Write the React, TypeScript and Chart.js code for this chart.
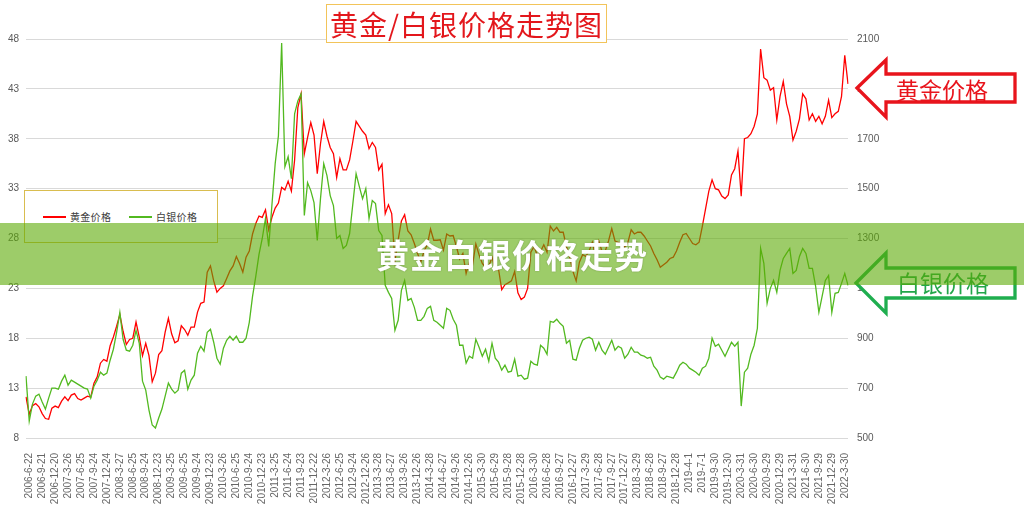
import React, { useEffect, useRef } from 'react';
import { Chart, registerables } from 'chart.js';

Chart.register(...registerables);

const tickLabels = [
  '2006-6-22', '2006-9-21', '2006-12-20', '2007-3-26', '2007-6-25', '2007-9-24', '2007-12-24', '2008-3-27',
  '2008-6-25', '2008-9-24', '2008-12-23', '2009-3-25', '2009-6-25', '2009-9-24', '2009-12-23', '2010-3-26',
  '2010-6-25', '2010-9-24', '2010-12-23', '2011-3-25', '2011-6-24', '2011-9-23', '2011-12-22', '2012-3-26',
  '2012-6-25', '2012-9-24', '2012-12-26', '2013-3-28', '2013-6-27', '2013-9-26', '2013-12-26', '2014-3-28',
  '2014-6-27', '2014-9-26', '2014-12-26', '2015-3-30', '2015-6-29', '2015-9-28', '2015-12-28', '2016-3-30',
  '2016-6-28', '2016-9-27', '2016-12-27', '2017-3-29', '2017-6-28', '2017-9-27', '2017-12-27', '2018-3-29',
  '2018-6-28', '2018-9-27', '2018-12-28', '2019-4-1', '2019-7-1', '2019-9-30', '2019-12-30', '2020-3-31',
  '2020-6-30', '2020-9-29', '2020-12-29', '2021-3-31', '2021-6-30', '2021-9-29', '2021-12-29', '2022-3-30',
];

const goldPrices = [
  665, 595, 630, 638, 625, 598, 578, 575, 620, 628,
  622, 648, 665, 650, 672, 678, 658, 652, 660, 668,
  664, 720, 745, 800, 815, 808, 870, 905, 948, 995,
  928, 875, 895, 900, 965, 905, 830, 880, 830, 725,
  760, 835, 850, 925, 980, 918, 882, 890, 950, 935,
  912, 945, 945, 1005, 1040, 1045, 1165, 1190, 1130, 1085,
  1100, 1110, 1140, 1170, 1190, 1228, 1200, 1165, 1225, 1250,
  1318, 1360, 1390, 1385, 1415, 1335, 1385, 1422, 1442, 1505,
  1495, 1530, 1490, 1615, 1825, 1880, 1640, 1705, 1765, 1715,
  1560, 1680, 1770, 1710, 1665, 1640, 1545, 1620, 1575, 1575,
  1615, 1690, 1770, 1750, 1730, 1715, 1660, 1685, 1665, 1575,
  1598, 1400, 1435, 1400, 1210, 1295, 1370, 1395, 1330, 1315,
  1280, 1240, 1205, 1250, 1275, 1338, 1293, 1293, 1295, 1253,
  1318, 1310, 1312, 1268, 1218, 1240, 1160, 1205, 1195, 1278,
  1235, 1200, 1185, 1188, 1225, 1172, 1178, 1095, 1115, 1122,
  1130, 1168, 1082, 1055, 1065, 1100, 1245, 1268, 1232, 1248,
  1275, 1245, 1350, 1330, 1345, 1325, 1325, 1268, 1225, 1168,
  1130, 1205, 1235, 1228, 1250, 1285, 1230, 1290, 1248, 1250,
  1290, 1340, 1290, 1285, 1278, 1265, 1285, 1335, 1318, 1325,
  1325, 1310, 1290, 1270, 1240, 1215, 1185, 1195, 1205, 1220,
  1225, 1250, 1285, 1315, 1320, 1300, 1280, 1275, 1285, 1350,
  1420, 1490, 1535, 1500, 1495, 1470, 1460, 1475, 1555, 1580,
  1650, 1470, 1700, 1705, 1720, 1750, 1800, 2060, 1945, 1935,
  1895, 1905, 1775, 1870, 1930, 1840, 1790, 1695, 1730, 1780,
  1880, 1860, 1775, 1800, 1770, 1790, 1760, 1790, 1855, 1785,
  1800, 1810, 1870, 2035, 1920,
];

const silverPrices = [
  14.2, 9.7, 11.4, 12.2, 12.4, 11.6, 10.9, 12.0, 13.0, 13.0,
  12.9, 13.7, 14.3, 13.3, 13.8, 13.6, 13.4, 13.2, 13.0, 12.9,
  12.0, 13.2, 13.8, 14.6, 14.3, 14.5, 15.8, 16.9, 18.6, 20.6,
  17.9, 16.8, 16.7, 17.3, 18.8, 17.5, 13.7, 12.8, 10.8, 9.3,
  9.0, 10.0, 10.9, 12.2, 13.5, 12.9, 12.5, 12.8, 14.5, 14.8,
  12.9, 13.8, 14.3, 16.5, 17.2, 16.7, 18.6, 18.9, 17.6, 16.0,
  15.4, 17.0, 17.8, 18.2, 17.8, 18.2, 17.6, 17.6, 18.0, 19.6,
  22.2, 24.2, 26.4, 28.0, 30.0, 27.2, 31.4, 35.5, 38.3, 47.6,
  35.2, 36.2, 34.0, 40.5, 41.8, 42.5, 30.3, 33.6, 32.8, 31.6,
  27.8, 32.0, 35.5, 34.3, 32.3, 31.3, 28.0, 28.3, 27.0, 27.3,
  28.5, 31.5, 34.5, 33.2, 32.0, 33.0, 30.0, 31.8, 31.5, 28.8,
  28.3, 23.3, 22.6, 22.0, 18.8, 19.8, 22.8, 23.8, 21.8, 22.0,
  21.1, 19.8, 19.8, 20.2, 21.0, 21.2, 19.8, 19.6, 19.3, 19.0,
  21.0, 20.8, 19.9, 19.3, 17.3, 17.3, 15.5, 16.2, 16.0, 17.9,
  17.1, 16.2, 16.9, 15.7, 17.5, 16.0, 15.6, 14.8, 15.3, 14.6,
  14.7, 15.9, 14.2, 14.3, 13.9, 14.0, 15.7, 15.4, 15.3, 17.3,
  17.0, 16.4, 19.7, 19.6, 19.9, 19.5, 19.2, 17.5, 17.8, 15.9,
  15.8, 17.0, 17.8, 18.0, 18.1, 17.9, 16.8, 17.6, 16.8, 16.4,
  17.1, 17.8, 16.8, 17.2, 17.0, 16.0, 16.4, 17.1, 16.6, 16.6,
  16.3, 16.2, 16.0, 16.1, 15.2, 14.8, 14.1, 13.9, 14.2, 14.1,
  14.0, 14.6, 15.3, 15.6, 15.4, 15.0, 14.8, 14.6, 14.3, 15.0,
  15.2, 16.0, 18.0, 17.2, 17.4, 16.8, 16.2, 16.9, 17.6, 17.2,
  17.6, 11.2, 14.6, 15.0, 16.4, 17.3, 19.0, 27.0, 25.5, 21.5,
  23.0, 23.8, 22.6, 24.8, 26.0, 26.5, 27.0, 24.5, 24.8, 26.2,
  27.0, 26.5, 25.0, 25.0, 23.2, 20.6, 22.2, 23.8, 24.3, 20.6,
  22.5, 22.6, 23.5, 24.5, 23.3,
];

const silverAxisTicks = [8, 13, 18, 23, 28, 33, 38, 43, 48];
const goldAxisTicks = [500, 700, 900, 1100, 1300, 1500, 1700, 1900, 2100];
const seriesNames = ['黄金价格', '白银价格'];
const chartTitle = '黄金/白银价格走势图';
const bannerText = '黄金白银价格走势';
const goldColor = '#ff0000';
const silverColor = '#52b920';

const categories = goldPrices.map((_, i) =>
  i % 4 === 1 && tickLabels[(i - 1) / 4] !== undefined ? tickLabels[(i - 1) / 4] : ''
);

const CJK = "'Noto Sans CJK SC', 'Noto Sans', sans-serif";

export default function App() {
  const canvasRef = useRef<HTMLCanvasElement>(null);

  useEffect(() => {
    document.body.style.margin = '0';
    const canvas = canvasRef.current;
    if (!canvas) return;
    Chart.defaults.font.family = "'Liberation Sans', Arial, sans-serif";
    const chart = new Chart(canvas, {
      type: 'line',
      data: {
        labels: categories,
        datasets: [
          {
            label: seriesNames[0],
            data: goldPrices,
            yAxisID: 'yGold',
            borderColor: goldColor,
            borderWidth: 1.3,
            pointRadius: 0,
            tension: 0,
            order: 1,
          },
          {
            label: seriesNames[1],
            data: silverPrices,
            yAxisID: 'ySilver',
            borderColor: silverColor,
            borderWidth: 1.3,
            pointRadius: 0,
            tension: 0,
            order: 0,
          },
        ],
      },
      options: {
        animation: false,
        responsive: false,
        maintainAspectRatio: false,
        events: [],
        layout: { padding: { top: 39, left: 0, right: 0, bottom: 0 } },
        plugins: {
          legend: { display: false },
          title: { display: false },
          tooltip: { enabled: false },
        },
        scales: {
          x: {
            type: 'category',
            grid: { display: false },
            border: { display: false },
            ticks: {
              autoSkip: false,
              minRotation: 90,
              maxRotation: 90,
              padding: 7,
              color: '#666666',
              font: { size: 10 },
            },
            afterFit: (s: any) => {
              s.height = 70;
            },
          },
          ySilver: {
            type: 'linear',
            position: 'left',
            min: 8,
            max: 48,
            grid: { color: '#d9d9d9', drawTicks: false, lineWidth: 1 },
            border: { display: false },
            ticks: {
              padding: 7,
              color: '#595959',
              font: { size: 10 },
              callback: (v: any) => String(v),
            },
            afterBuildTicks: (s: any) => {
              s.ticks = silverAxisTicks.map((v) => ({ value: v }));
            },
            afterFit: (s: any) => {
              s.width = 26;
            },
          },
          yGold: {
            type: 'linear',
            position: 'right',
            min: 500,
            max: 2100,
            grid: { drawOnChartArea: false, drawTicks: false },
            border: { display: false },
            ticks: {
              padding: 9,
              color: '#595959',
              font: { size: 10 },
              callback: (v: any) => String(v),
            },
            afterBuildTicks: (s: any) => {
              s.ticks = goldAxisTicks.map((v) => ({ value: v }));
            },
            afterFit: (s: any) => {
              s.width = 176;
            },
          },
        },
      },
    } as any);
    return () => chart.destroy();
  }, []);

  return (
    <div style={{ position: 'absolute', left: 0, top: 0, width: 1024, height: 508, overflow: 'hidden', background: '#fff' }}>
      <canvas ref={canvasRef} width={1024} height={508} style={{ position: 'absolute', left: 0, top: 0, width: 1024, height: 508 }} />

      {/* Title box */}
      <div
        style={{
          position: 'absolute', left: 326, top: 4, width: 281, height: 39, boxSizing: 'border-box',
          border: '1px solid #f2c45a', background: '#fff', display: 'flex', alignItems: 'center',
          justifyContent: 'center', color: '#e3171c', fontSize: 28, letterSpacing: 1, fontFamily: CJK,
          lineHeight: 1, whiteSpace: 'nowrap',
        }}
      >
        {chartTitle}
      </div>

      {/* Legend box */}
      <div
        style={{
          position: 'absolute', left: 24, top: 190, width: 194, height: 53, boxSizing: 'border-box',
          border: '1px solid #d9bd4f', background: '#fff', fontFamily: CJK, fontSize: 10, color: '#404040',
        }}
      >
        <div style={{ position: 'absolute', left: 18, top: 25, width: 23, height: 2, background: goldColor }} />
        <div style={{ position: 'absolute', left: 45, top: 19, lineHeight: '14px', whiteSpace: 'nowrap', letterSpacing: 0.3 }}>
          {seriesNames[0]}
        </div>
        <div style={{ position: 'absolute', left: 104, top: 25, width: 23, height: 2, background: silverColor }} />
        <div style={{ position: 'absolute', left: 131, top: 19, lineHeight: '14px', whiteSpace: 'nowrap', letterSpacing: 0.3 }}>
          {seriesNames[1]}
        </div>
      </div>

      {/* Arrows */}
      <svg width={1024} height={508} style={{ position: 'absolute', left: 0, top: 0, pointerEvents: 'none' }}>
        <polygon
          points="857,88 886,60 886,74 1015,74 1015,102 886,102 886,117"
          fill="#fff"
          stroke="#e8141c"
          strokeWidth={3.3}
          strokeLinejoin="miter"
        />
        <text x={942} y={89} textAnchor="middle" dominantBaseline="central" fontSize={23} fill="#e8141c" fontFamily={CJK}>
          {seriesNames[0]}
        </text>
        <polygon
          points="856,283 886,253 886,268 1015,268 1015,298 886,298 886,313"
          fill="#fff"
          stroke="#1fae4f"
          strokeWidth={3.3}
          strokeLinejoin="miter"
        />
        <text x={943} y={282} textAnchor="middle" dominantBaseline="central" fontSize={23} fill="#22a64a" fontFamily={CJK}>
          {seriesNames[1]}
        </text>
      </svg>

      {/* Banner overlay */}
      <div
        style={{
          position: 'absolute', left: 0, top: 223, width: 1024, height: 62, background: 'rgba(92,170,5,0.6)',
          display: 'flex', alignItems: 'center', justifyContent: 'center', color: '#fff', fontWeight: 700,
          fontSize: 33, letterSpacing: 1, fontFamily: CJK, textShadow: '0 0 2px rgba(0,0,0,0.25)', whiteSpace: 'nowrap',
        }}
      >
        {bannerText}
      </div>
    </div>
  );
}
